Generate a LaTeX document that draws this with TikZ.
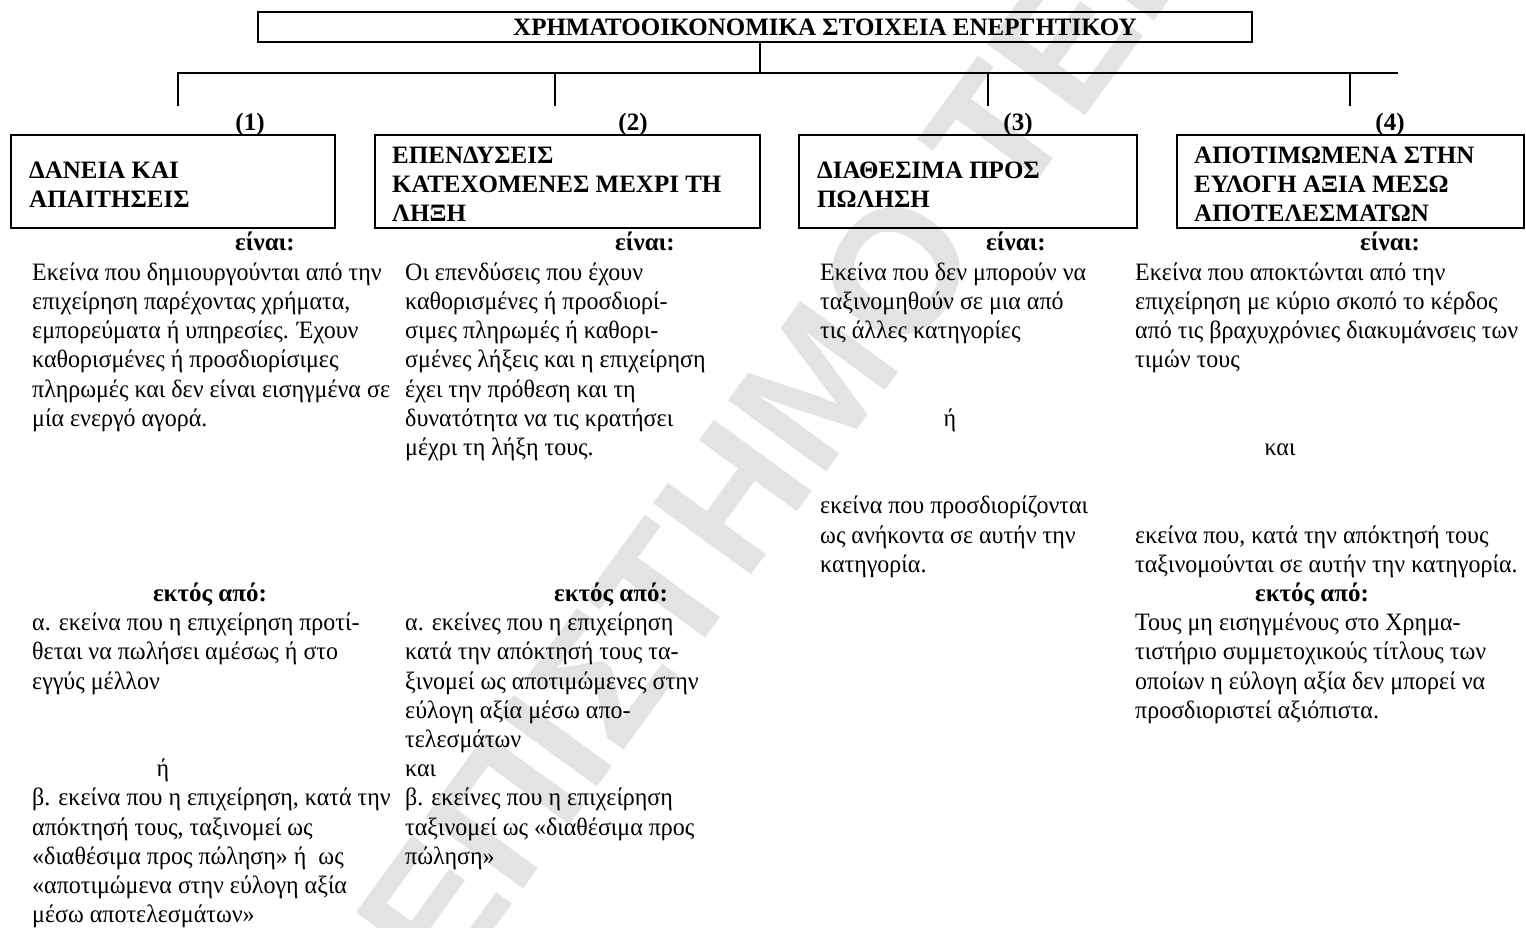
\documentclass[tikz,border=0pt]{standalone}
\usepackage{fontspec}
\setmainfont{Liberation Serif}
\newfontfamily\bodyfont{Liberation Serif}[FakeStretch=0.96]
\newfontfamily\markfont{Liberation Sans}
\begin{document}
\begin{tikzpicture}[x=1pt, y=-1pt,
    every node/.style={font=\fontsize{25}{29.2}\selectfont, inner sep=0pt},
    frame style/.style={draw=black, line width=2pt},
    link style/.style={draw=black, line width=2pt, line cap=rect},
    cat box/.style={frame style, minimum height=93pt},
    box text/.style={anchor=west, align=left, font=\fontsize{25}{29.2}\selectfont\bfseries},
    head/.style={anchor=base, font=\fontsize{25}{29.2}\selectfont\bfseries},
    body/.style={anchor=base west, align=left, font=\bodyfont\fontsize{25}{29.2}\selectfont},
    word/.style={anchor=base, font=\bodyfont\fontsize{25}{29.2}\selectfont},
    mark style/.style={rotate=54, anchor=base west, text=black!11,
        font=\markfont\bfseries\fontsize{176}{176}\selectfont}]
    \useasboundingbox (0,0) rectangle (1526,928);

    \pgfmathsetmacro{\rowA}{251}
    \pgfmathsetmacro{\pitch}{29.2}

    \begin{scope}
    \clip (0,0) rectangle (1526,928);
    \node[mark style] (mark) at (447,994) {ΕΠΙΣΤΗΜΟ ΤΕΙ};
    \end{scope}

    % title
    \node[frame style, minimum width=994pt, minimum height=30pt] (top) at (755,27) {};
    \node[head, anchor=base west] (toptext) at (513,36) {ΧΡΗΜΑΤΟΟΙΚΟΝΟΜΙΚΑ ΣΤΟΙΧΕΙΑ ΕΝΕΡΓΗΤΙΚΟΥ};

    \coordinate (hub) at (760,73);
    \coordinate (rail w) at (178,73);
    \coordinate (rail e) at (1397,73);
    \draw[style=link style] (hub |- top.south) -- (hub);
    \draw[style=link style] (rail w) -- (rail e);
    \foreach \i/\x in {1/178, 2/555, 3/988, 4/1350} {
        \coordinate (d\i) at (\x,105);
        \draw[style=link style] (d\i |- rail w) -- (d\i);
    }

    % the four classes
    \node[head] (l1) at (250,131) {(1)};
    \node[head] (l2) at (633,131) {(2)};
    \node[head] (l3) at (1018,131) {(3)};
    \node[head] (l4) at (1390,131) {(4)};

    \node[cat box, minimum width=324pt] (b1) at (173,181.5) {};
    \node[cat box, minimum width=385pt] (b2) at (567.5,181.5) {};
    \node[cat box, minimum width=338pt] (b3) at (968,181.5) {};
    \node[cat box, minimum width=347pt] (b4) at (1350.5,181.5) {};

    \node[box text] (t1) at ([xshift=19pt, yshift=-3pt]b1.west) {ΔΑΝΕΙΑ ΚΑΙ\\ΑΠΑΙΤΗΣΕΙΣ};
    \node[box text] (t2) at ([xshift=18pt, yshift=-3pt]b2.west) {ΕΠΕΝΔΥΣΕΙΣ\\ΚΑΤΕΧΟΜΕΝΕΣ ΜΕΧΡΙ ΤΗ\\ΛΗΞΗ};
    \node[box text] (t3) at ([xshift=19pt, yshift=-3pt]b3.west) {ΔΙΑΘΕΣΙΜΑ ΠΡΟΣ\\ΠΩΛΗΣΗ};
    \node[box text] (t4) at ([xshift=18pt, yshift=-3pt]b4.west) {ΑΠΟΤΙΜΩΜΕΝΑ ΣΤΗΝ\\ΕΥΛΟΓΗ ΑΞΙΑ ΜΕΣΩ\\ΑΠΟΤΕΛΕΣΜΑΤΩΝ};

    % (1)   (a text block stands on the baseline of its last line)
    \node[head] (is1) at (265,\rowA) {είναι:};
    \node[body] (def1) at (32,\rowA+6*\pitch) {Εκείνα που δημιουργούνται από την\\επιχείρηση παρέχοντας χρήματα,\\εμπορεύματα ή υπηρεσίες. Έχουν\\καθορισμένες ή προσδιορίσιμες\\πληρωμές και δεν είναι εισηγμένα σε\\μία ενεργό αγορά.};
    \node[head] (ex1) at (210,\rowA+12*\pitch) {εκτός από:};
    \node[body] (ex1a) at (32,\rowA+15*\pitch) {α. εκείνα που η επιχείρηση προτί-\\θεται να πωλήσει αμέσως ή στο\\εγγύς μέλλον};
    \node[word] (or1) at (163,\rowA+18*\pitch) {ή};
    \node[body] (ex1b) at (32,\rowA+23*\pitch) {β. εκείνα που η επιχείρηση, κατά την\\απόκτησή τους, ταξινομεί ως\\«διαθέσιμα προς πώληση» ή\ \ ως\\«αποτιμώμενα στην εύλογη αξία\\μέσω αποτελεσμάτων»};

    % (2)
    \node[head] (is2) at (645,\rowA) {είναι:};
    \node[body] (def2) at (405,\rowA+7*\pitch) {Οι επενδύσεις που έχουν\\καθορισμένες ή προσδιορί-\\σιμες πληρωμές ή καθορι-\\σμένες λήξεις και η επιχείρηση\\έχει την πρόθεση και τη\\δυνατότητα να τις κρατήσει\\μέχρι τη λήξη τους.};
    \node[head] (ex2) at (611,\rowA+12*\pitch) {εκτός από:};
    \node[body] (ex2a) at (405,\rowA+21*\pitch) {α. εκείνες που η επιχείρηση\\κατά την απόκτησή τους τα-\\ξινομεί ως αποτιμώμενες στην\\εύλογη αξία μέσω απο-\\τελεσμάτων\\και\\β. εκείνες που η επιχείρηση\\ταξινομεί ως «διαθέσιμα προς\\πώληση»};

    % (3)
    \node[head] (is3) at (1016,\rowA) {είναι:};
    \node[body] (def3) at (820,\rowA+3*\pitch) {Εκείνα που δεν μπορούν να\\ταξινομηθούν σε μια από\\τις άλλες κατηγορίες};
    \node[word] (or3) at (950,\rowA+6*\pitch) {ή};
    \node[body] (def3b) at (820,\rowA+11*\pitch) {εκείνα που προσδιορίζονται\\ως ανήκοντα σε αυτήν την\\κατηγορία.};

    % (4)
    \node[head] (is4) at (1390,\rowA) {είναι:};
    \node[body] (def4) at (1135,\rowA+4*\pitch) {Εκείνα που αποκτώνται από την\\επιχείρηση με κύριο σκοπό το κέρδος\\από τις βραχυχρόνιες διακυμάνσεις των\\τιμών τους};
    \node[word] (and4) at (1280,\rowA+7*\pitch) {και};
    \node[body] (def4b) at (1135,\rowA+11*\pitch) {εκείνα που, κατά την απόκτησή τους\\ταξινομούνται σε αυτήν την κατηγορία.};
    \node[head] (ex4) at (1312,\rowA+12*\pitch) {εκτός από:};
    \node[body] (ex4a) at (1135,\rowA+16*\pitch) {Τους μη εισηγμένους στο Χρημα-\\τιστήριο συμμετοχικούς τίτλους των\\οποίων η εύλογη αξία δεν μπορεί να\\προσδιοριστεί αξιόπιστα.};

\end{tikzpicture}
\end{document}
